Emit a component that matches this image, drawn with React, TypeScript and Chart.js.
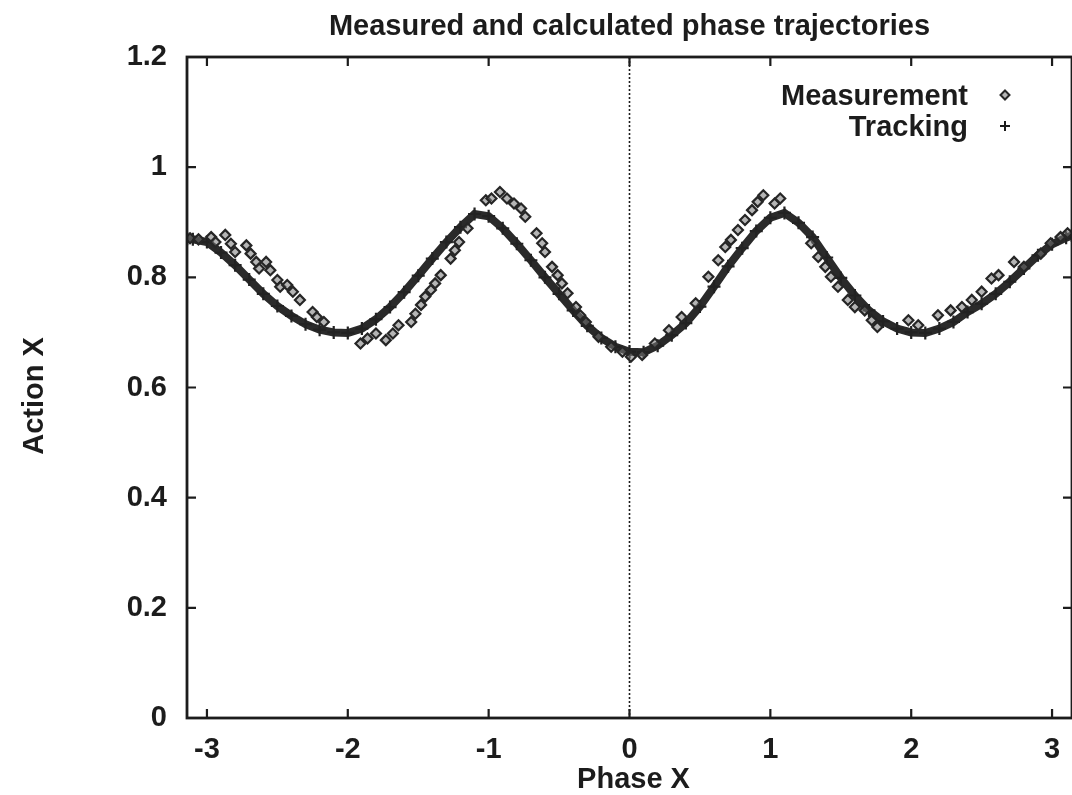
import React, { useEffect, useRef } from "react";
import { Chart, registerables } from "chart.js";

Chart.register(...registerables);

const TITLE = "Measured and calculated phase trajectories";
const X_LABEL = "Phase X";
const Y_LABEL = "Action X";
const LABEL_MEAS = "Measurement";
const LABEL_TRACK = "Tracking";

const xTickValues = [-3, -2, -1, 0, 1, 2, 3];
const yTickValues = [0, 0.2, 0.4, 0.6, 0.8, 1, 1.2];

// Tracking (calculated) trajectory
const trackingX = [
  -3.14, -3.1, -3.0, -2.9, -2.8, -2.7, -2.6, -2.5, -2.4, -2.3, -2.2, -2.1, -2.0,
  -1.9, -1.8, -1.7, -1.6, -1.5, -1.4, -1.3, -1.2, -1.1, -1.0, -0.9, -0.8, -0.7,
  -0.6, -0.5, -0.4, -0.3, -0.2, -0.1, 0.0, 0.1, 0.2, 0.3, 0.4, 0.5, 0.6, 0.7,
  0.8, 0.9, 1.0, 1.1, 1.2, 1.3, 1.4, 1.5, 1.6, 1.7, 1.8, 1.9, 2.0, 2.1, 2.2,
  2.3, 2.4, 2.5, 2.6, 2.7, 2.8, 2.9, 3.0, 3.1, 3.14,
];
const trackingY = [
  0.870, 0.869, 0.864, 0.845, 0.822, 0.796, 0.770, 0.748, 0.730, 0.715, 0.705,
  0.700, 0.699, 0.707, 0.724, 0.746, 0.773, 0.803, 0.834, 0.864, 0.891, 0.915,
  0.911, 0.889, 0.861, 0.831, 0.800, 0.770, 0.740, 0.712, 0.690, 0.674, 0.665,
  0.664, 0.676, 0.695, 0.717, 0.747, 0.783, 0.820, 0.853, 0.884, 0.908, 0.917,
  0.899, 0.873, 0.836, 0.799, 0.767, 0.740, 0.720, 0.707, 0.700, 0.699, 0.707,
  0.719, 0.737, 0.752, 0.770, 0.792, 0.816, 0.840, 0.860, 0.872, 0.876,
];

// Measured points
const measX = [
  -3.12, -3.06, -2.97, -2.94, -2.87, -2.83, -2.80, -2.72, -2.69, -2.65, -2.63,
  -2.58, -2.55, -2.50, -2.48, -2.43, -2.39, -2.34, -2.25, -2.22, -2.17, -1.91,
  -1.86, -1.80, -1.73, -1.68, -1.64, -1.55, -1.52, -1.48, -1.45, -1.41, -1.38,
  -1.34, -1.27, -1.24, -1.21, -1.15, -1.02, -0.98, -0.92, -0.87, -0.82, -0.77,
  -0.74, -0.66, -0.62, -0.60, -0.55, -0.51, -0.48, -0.44, -0.38, -0.35, -0.31,
  -0.22, -0.13, -0.05, 0.01, 0.09, 0.18, 0.28, 0.37, 0.47, 0.56, 0.63, 0.68,
  0.72, 0.77, 0.82, 0.87, 0.91, 0.95, 1.03, 1.07, 1.29, 1.34, 1.39, 1.43, 1.48,
  1.55, 1.60, 1.67, 1.72, 1.76, 1.98, 2.05, 2.19, 2.28, 2.36, 2.43, 2.50, 2.57,
  2.62, 2.73, 2.80, 2.92, 2.99, 3.06, 3.11,
];
const measY = [
  0.871, 0.869, 0.873, 0.864, 0.877, 0.861, 0.846, 0.858, 0.843, 0.828, 0.816,
  0.828, 0.813, 0.795, 0.783, 0.786, 0.774, 0.759, 0.737, 0.728, 0.719, 0.680,
  0.689, 0.698, 0.686, 0.698, 0.713, 0.719, 0.734, 0.750, 0.765, 0.777, 0.789,
  0.804, 0.834, 0.849, 0.864, 0.889, 0.940, 0.943, 0.955, 0.943, 0.934, 0.925,
  0.910, 0.880, 0.862, 0.846, 0.819, 0.804, 0.789, 0.771, 0.746, 0.731, 0.719,
  0.692, 0.674, 0.665, 0.656, 0.659, 0.680, 0.704, 0.728, 0.753, 0.801, 0.831,
  0.855, 0.868, 0.886, 0.904, 0.922, 0.937, 0.949, 0.934, 0.943, 0.862, 0.837,
  0.819, 0.801, 0.783, 0.759, 0.746, 0.740, 0.722, 0.710, 0.722, 0.713, 0.731,
  0.740, 0.746, 0.759, 0.774, 0.798, 0.804, 0.828, 0.819, 0.843, 0.862, 0.873,
  0.880,
];

const FONT_FAMILY = "'Liberation Sans', Arial, Helvetica, sans-serif";
const FONT_SIZE = 29;
const INK = "#1c1c1c";
const MEAS_EDGE = "#262626";
const MEAS_FILL = "rgba(120,120,120,0.55)";

const framePlugin = {
  id: "gnuplotFrame",
  beforeDatasetsDraw(chart: any) {
    const { ctx, chartArea, scales } = chart;
    const x0 = scales.x.getPixelForValue(0);
    ctx.save();
    ctx.strokeStyle = INK;
    ctx.lineWidth = 1.6;
    ctx.setLineDash([2, 2]);
    ctx.beginPath();
    ctx.moveTo(x0, chartArea.top);
    ctx.lineTo(x0, chartArea.bottom);
    ctx.stroke();
    ctx.restore();
  },
  afterDraw(chart: any) {
    const { ctx, chartArea, scales } = chart;
    const { left, right, top, bottom } = chartArea;
    ctx.save();
    ctx.strokeStyle = INK;
    ctx.lineWidth = 2.8;
    ctx.strokeRect(left, top, right - left, bottom - top);
    const tl = 9;
    ctx.lineWidth = 2.2;
    ctx.beginPath();
    xTickValues.forEach((v) => {
      const px = scales.x.getPixelForValue(v);
      ctx.moveTo(px, bottom);
      ctx.lineTo(px, bottom - tl);
      ctx.moveTo(px, top);
      ctx.lineTo(px, top + tl);
    });
    yTickValues.forEach((v) => {
      const py = scales.y.getPixelForValue(v);
      ctx.moveTo(left, py);
      ctx.lineTo(left + tl, py);
      ctx.moveTo(right, py);
      ctx.lineTo(right - tl, py);
    });
    ctx.stroke();

    // titles
    ctx.fillStyle = INK;
    ctx.font = `bold ${FONT_SIZE}px ${FONT_FAMILY}`;
    ctx.textAlign = "center";
    ctx.textBaseline = "alphabetic";
    ctx.fillText(TITLE, (left + right) / 2, 35);
    ctx.fillText(X_LABEL, (left + right) / 2 + 4, 788);
    ctx.save();
    ctx.translate(43, 396);
    ctx.rotate(-Math.PI / 2);
    ctx.fillText(Y_LABEL, 0, 0);
    ctx.restore();

    // legend
    ctx.textAlign = "right";
    ctx.fillText(LABEL_MEAS, 968, 105);
    ctx.fillText(LABEL_TRACK, 968, 136);
    // diamond symbol
    ctx.lineWidth = 2;
    ctx.strokeStyle = MEAS_EDGE;
    ctx.fillStyle = MEAS_FILL;
    const dx = 1005, dy = 95, r = 4.5;
    ctx.beginPath();
    ctx.moveTo(dx, dy - r);
    ctx.lineTo(dx + r, dy);
    ctx.lineTo(dx, dy + r);
    ctx.lineTo(dx - r, dy);
    ctx.closePath();
    ctx.fill();
    ctx.stroke();
    // cross symbol
    const cx = 1005, cy = 126, c = 5;
    ctx.strokeStyle = INK;
    ctx.beginPath();
    ctx.moveTo(cx - c, cy);
    ctx.lineTo(cx + c, cy);
    ctx.moveTo(cx, cy - c);
    ctx.lineTo(cx, cy + c);
    ctx.stroke();
    ctx.restore();
  },
};

export default function App() {
  const canvasRef = useRef<HTMLCanvasElement | null>(null);

  useEffect(() => {
    document.body.style.margin = "0";
    const canvas = canvasRef.current;
    if (!canvas) return;
    const tickFont = { family: FONT_FAMILY, size: FONT_SIZE, weight: "bold" as const };
    const chart = new Chart(canvas, {
      type: "scatter",
      data: {
        datasets: [
          {
            label: LABEL_MEAS,
            data: measX.map((x, i) => ({ x, y: measY[i] })),
            pointStyle: "rectRot",
            pointRadius: 5,
            pointBorderWidth: 2.2,
            pointBorderColor: MEAS_EDGE,
            pointBackgroundColor: MEAS_FILL,
            showLine: false,
          },
          {
            label: LABEL_TRACK,
            data: trackingX.map((x, i) => ({ x, y: trackingY[i] })),
            showLine: true,
            borderColor: "#2a2a2a",
            borderWidth: 8,
            pointStyle: "cross",
            pointRadius: 6.5,
            pointBorderWidth: 2.2,
            pointBorderColor: "#222",
            pointBackgroundColor: "#222",
          },
        ],
      },
      options: {
        responsive: false,
        animation: false,
        layout: { autoPadding: false, padding: { top: 57, right: 0, bottom: 0, left: 0 } },
        plugins: {
          legend: { display: false },
          title: { display: false },
          tooltip: { enabled: false },
        },
        scales: {
          x: {
            type: "linear",
            min: -Math.PI,
            max: Math.PI,
            grid: { display: false, drawTicks: false },
            border: { display: false },
            afterBuildTicks: (s: any) => {
              s.ticks = xTickValues.map((v) => ({ value: v }));
            },
            afterFit: (s: any) => {
              s.height = 77;
              s.paddingLeft = 0;
              s.paddingRight = 0;
            },
            ticks: {
              padding: 15,
              color: INK,
              font: tickFont,
              maxRotation: 0,
              autoSkip: false,
              callback: (v: any) => String(v),
            },
          },
          y: {
            type: "linear",
            min: 0,
            max: 1.2,
            grid: { display: false, drawTicks: false },
            border: { display: false },
            afterBuildTicks: (s: any) => {
              s.ticks = yTickValues.map((v) => ({ value: v }));
            },
            afterFit: (s: any) => {
              s.width = 187;
              s.paddingTop = 0;
              s.paddingBottom = 0;
            },
            ticks: {
              padding: 20,
              color: INK,
              font: tickFont,
              autoSkip: false,
              callback: (v: any) => String(v),
            },
          },
        },
      },
      plugins: [framePlugin],
    });
    return () => chart.destroy();
  }, []);

  return (
    <div style={{ width: 1072, height: 795, background: "#fff" }}>
      <canvas ref={canvasRef} width={1072} height={795} />
    </div>
  );
}
